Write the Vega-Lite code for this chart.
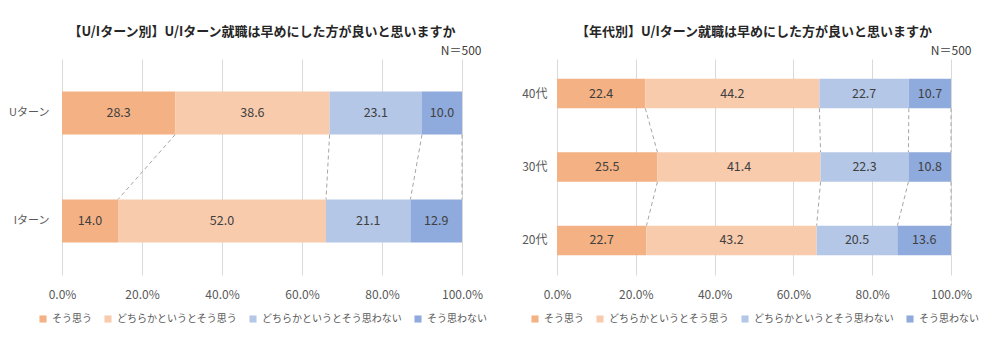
{
  "$schema": "https://vega.github.io/schema/vega-lite/v6.json",
  "padding": {"left": 8, "top": 26, "right": 5, "bottom": 5},
  "background": "white",
  "datasets": {
    "ui": [
      {"cat": "Uターン", "resp": "そう思う", "ord": 1, "v": 28.3},
      {"cat": "Uターン", "resp": "どちらかというとそう思う", "ord": 2, "v": 38.6},
      {"cat": "Uターン", "resp": "どちらかというとそう思わない", "ord": 3, "v": 23.1},
      {"cat": "Uターン", "resp": "そう思わない", "ord": 4, "v": 10.0},
      {"cat": "Iターン", "resp": "そう思う", "ord": 1, "v": 14.0},
      {"cat": "Iターン", "resp": "どちらかというとそう思う", "ord": 2, "v": 52.0},
      {"cat": "Iターン", "resp": "どちらかというとそう思わない", "ord": 3, "v": 21.1},
      {"cat": "Iターン", "resp": "そう思わない", "ord": 4, "v": 12.9}
    ],
    "age": [
      {"cat": "40代", "resp": "そう思う", "ord": 1, "v": 22.4},
      {"cat": "40代", "resp": "どちらかというとそう思う", "ord": 2, "v": 44.2},
      {"cat": "40代", "resp": "どちらかというとそう思わない", "ord": 3, "v": 22.7},
      {"cat": "40代", "resp": "そう思わない", "ord": 4, "v": 10.7},
      {"cat": "30代", "resp": "そう思う", "ord": 1, "v": 25.5},
      {"cat": "30代", "resp": "どちらかというとそう思う", "ord": 2, "v": 41.4},
      {"cat": "30代", "resp": "どちらかというとそう思わない", "ord": 3, "v": 22.3},
      {"cat": "30代", "resp": "そう思わない", "ord": 4, "v": 10.8},
      {"cat": "20代", "resp": "そう思う", "ord": 1, "v": 22.7},
      {"cat": "20代", "resp": "どちらかというとそう思う", "ord": 2, "v": 43.2},
      {"cat": "20代", "resp": "どちらかというとそう思わない", "ord": 3, "v": 20.5},
      {"cat": "20代", "resp": "そう思わない", "ord": 4, "v": 13.6}
    ],
    "ui_conn": [
      {"top": "Uターン", "bottom": "Iターン", "a": 28.3, "b": 14.0},
      {"top": "Uターン", "bottom": "Iターン", "a": 66.9, "b": 66.0},
      {"top": "Uターン", "bottom": "Iターン", "a": 90.0, "b": 87.1},
      {"top": "Uターン", "bottom": "Iターン", "a": 100.0, "b": 100.0}
    ],
    "age_conn": [
      {"top": "40代", "bottom": "30代", "a": 22.4, "b": 25.5},
      {"top": "40代", "bottom": "30代", "a": 66.6, "b": 66.9},
      {"top": "40代", "bottom": "30代", "a": 89.3, "b": 89.2},
      {"top": "40代", "bottom": "30代", "a": 100.0, "b": 100.0},
      {"top": "30代", "bottom": "20代", "a": 25.5, "b": 22.7},
      {"top": "30代", "bottom": "20代", "a": 66.9, "b": 65.9},
      {"top": "30代", "bottom": "20代", "a": 89.2, "b": 86.4},
      {"top": "30代", "bottom": "20代", "a": 100.0, "b": 100.0}
    ]
  },
  "hconcat": [
    {
      "width": 400,
      "height": 216,
      "title": {"text": "【U/Iターン別】U/Iターン就職は早めにした方が良いと思いますか", "anchor": "middle", "offset": 5},
      "resolve": {"axis": {"x": "independent"}},
      "layer": [
        {
          "data": {"name": "ui"},
          "transform": [
            {"stack": "v", "groupby": ["cat"], "sort": [{"field": "ord"}], "as": ["s0", "s1"]}
          ],
          "mark": {"type": "bar"},
          "encoding": {
            "y": {"field": "cat", "type": "nominal", "title": null, "scale": {"domain": ["Uターン", "Iターン"], "paddingInner": 0.6, "paddingOuter": 0.3}, "axis": {"domain": false, "ticks": false, "labelPadding": 13, "labelFontSize": 11}},
            "x": {"field": "s0", "type": "quantitative", "title": null, "scale": {"domain": [0, 100], "nice": false}, "axis": {"orient": "bottom", "values": [0, 20, 40, 60, 80, 100], "labelExpr": "format(datum.value, '.1f') + '%'", "labelFlush": false, "grid": true, "domain": false, "ticks": false, "labelPadding": 14}},
            "x2": {"field": "s1"},
            "color": {"field": "resp", "type": "nominal", "title": null,
              "scale": {"domain": ["そう思う", "どちらかというとそう思う", "どちらかというとそう思わない", "そう思わない"], "range": ["#F4B183", "#F8CBAD", "#B4C7E7", "#8FAADC"]},
              "legend": {"orient": "bottom", "direction": "horizontal", "symbolType": "square", "symbolSize": 50, "columnPadding": 11, "labelOffset": 4, "offset": 14}}
          }
        },
        {
          "data": {"name": "ui"},
          "transform": [
            {"stack": "v", "groupby": ["cat"], "sort": [{"field": "ord"}], "as": ["s0", "s1"]},
            {"calculate": "(datum.s0 + datum.s1) / 2", "as": "mid"}
          ],
          "mark": {"type": "text", "fontSize": 12.5, "color": "#404040"},
          "encoding": {
            "y": {"field": "cat", "type": "nominal"},
            "x": {"field": "mid", "type": "quantitative", "axis": null},
            "text": {"field": "v", "type": "quantitative", "format": ".1f"}
          }
        },
        {
          "data": {"name": "ui_conn"},
          "mark": {"type": "rule", "color": "#a6a6a6", "strokeDash": [4, 3], "strokeWidth": 1},
          "encoding": {
            "y": {"field": "top", "type": "nominal", "bandPosition": 1},
            "y2": {"field": "bottom", "bandPosition": 0},
            "x": {"field": "a", "type": "quantitative", "axis": {"orient": "top", "title": "N＝500", "labels": false, "ticks": false, "domain": false, "grid": false, "titleAnchor": "end", "titleAlign": "right", "titleX": 419, "titlePadding": 2, "titleFontWeight": "normal", "titleFontSize": 12, "titleColor": "#404040"}},
            "x2": {"field": "b"}
          }
        }
      ]
    },
    {
      "width": 394,
      "height": 216,
      "title": {"text": "【年代別】U/Iターン就職は早めにした方が良いと思いますか", "anchor": "middle", "offset": 5},
      "resolve": {"axis": {"x": "independent"}},
      "layer": [
        {
          "data": {"name": "age"},
          "transform": [
            {"stack": "v", "groupby": ["cat"], "sort": [{"field": "ord"}], "as": ["s0", "s1"]}
          ],
          "mark": {"type": "bar"},
          "encoding": {
            "y": {"field": "cat", "type": "nominal", "title": null, "scale": {"domain": ["40代", "30代", "20代"], "paddingInner": 0.6, "paddingOuter": 0.27}, "axis": {"domain": false, "ticks": false, "labelPadding": 10, "labelFontSize": 12}},
            "x": {"field": "s0", "type": "quantitative", "title": null, "scale": {"domain": [0, 100], "nice": false}, "axis": {"orient": "bottom", "values": [0, 20, 40, 60, 80, 100], "labelExpr": "format(datum.value, '.1f') + '%'", "labelFlush": false, "grid": true, "domain": false, "ticks": false, "labelPadding": 14}},
            "x2": {"field": "s1"},
            "color": {"field": "resp", "type": "nominal", "title": null,
              "scale": {"domain": ["そう思う", "どちらかというとそう思う", "どちらかというとそう思わない", "そう思わない"], "range": ["#F4B183", "#F8CBAD", "#B4C7E7", "#8FAADC"]},
              "legend": {"orient": "bottom", "direction": "horizontal", "symbolType": "square", "symbolSize": 50, "columnPadding": 11, "labelOffset": 4, "offset": 14}}
          }
        },
        {
          "data": {"name": "age"},
          "transform": [
            {"stack": "v", "groupby": ["cat"], "sort": [{"field": "ord"}], "as": ["s0", "s1"]},
            {"calculate": "(datum.s0 + datum.s1) / 2", "as": "mid"}
          ],
          "mark": {"type": "text", "fontSize": 12.5, "color": "#404040"},
          "encoding": {
            "y": {"field": "cat", "type": "nominal"},
            "x": {"field": "mid", "type": "quantitative", "axis": null},
            "text": {"field": "v", "type": "quantitative", "format": ".1f"}
          }
        },
        {
          "data": {"name": "age_conn"},
          "mark": {"type": "rule", "color": "#a6a6a6", "strokeDash": [4, 3], "strokeWidth": 1},
          "encoding": {
            "y": {"field": "top", "type": "nominal", "bandPosition": 1},
            "y2": {"field": "bottom", "bandPosition": 0},
            "x": {"field": "a", "type": "quantitative", "axis": {"orient": "top", "title": "N＝500", "labels": false, "ticks": false, "domain": false, "grid": false, "titleAnchor": "end", "titleAlign": "right", "titleX": 414, "titlePadding": 2, "titleFontWeight": "normal", "titleFontSize": 12, "titleColor": "#404040"}},
            "x2": {"field": "b"}
          }
        }
      ]
    }
  ],
  "spacing": 34,
  "resolve": {"legend": {"color": "independent"}, "scale": {"color": "independent"}},
  "config": {
    "font": "Noto Sans CJK JP",
    "view": {"stroke": null},
    "title": {"fontSize": 13, "fontWeight": "bold", "color": "#262626", "font": "Noto Sans CJK JP"},
    "axis": {"labelFont": "Noto Sans CJK JP", "labelFontSize": 12, "labelColor": "#595959", "gridColor": "#d9d9d9", "gridWidth": 1},
    "legend": {"labelFont": "Noto Sans CJK JP", "labelFontSize": 10, "labelColor": "#595959", "layout": {"bottom": {"anchor": "middle"}}},
    "text": {"font": "Noto Sans CJK JP"}
  }
}
